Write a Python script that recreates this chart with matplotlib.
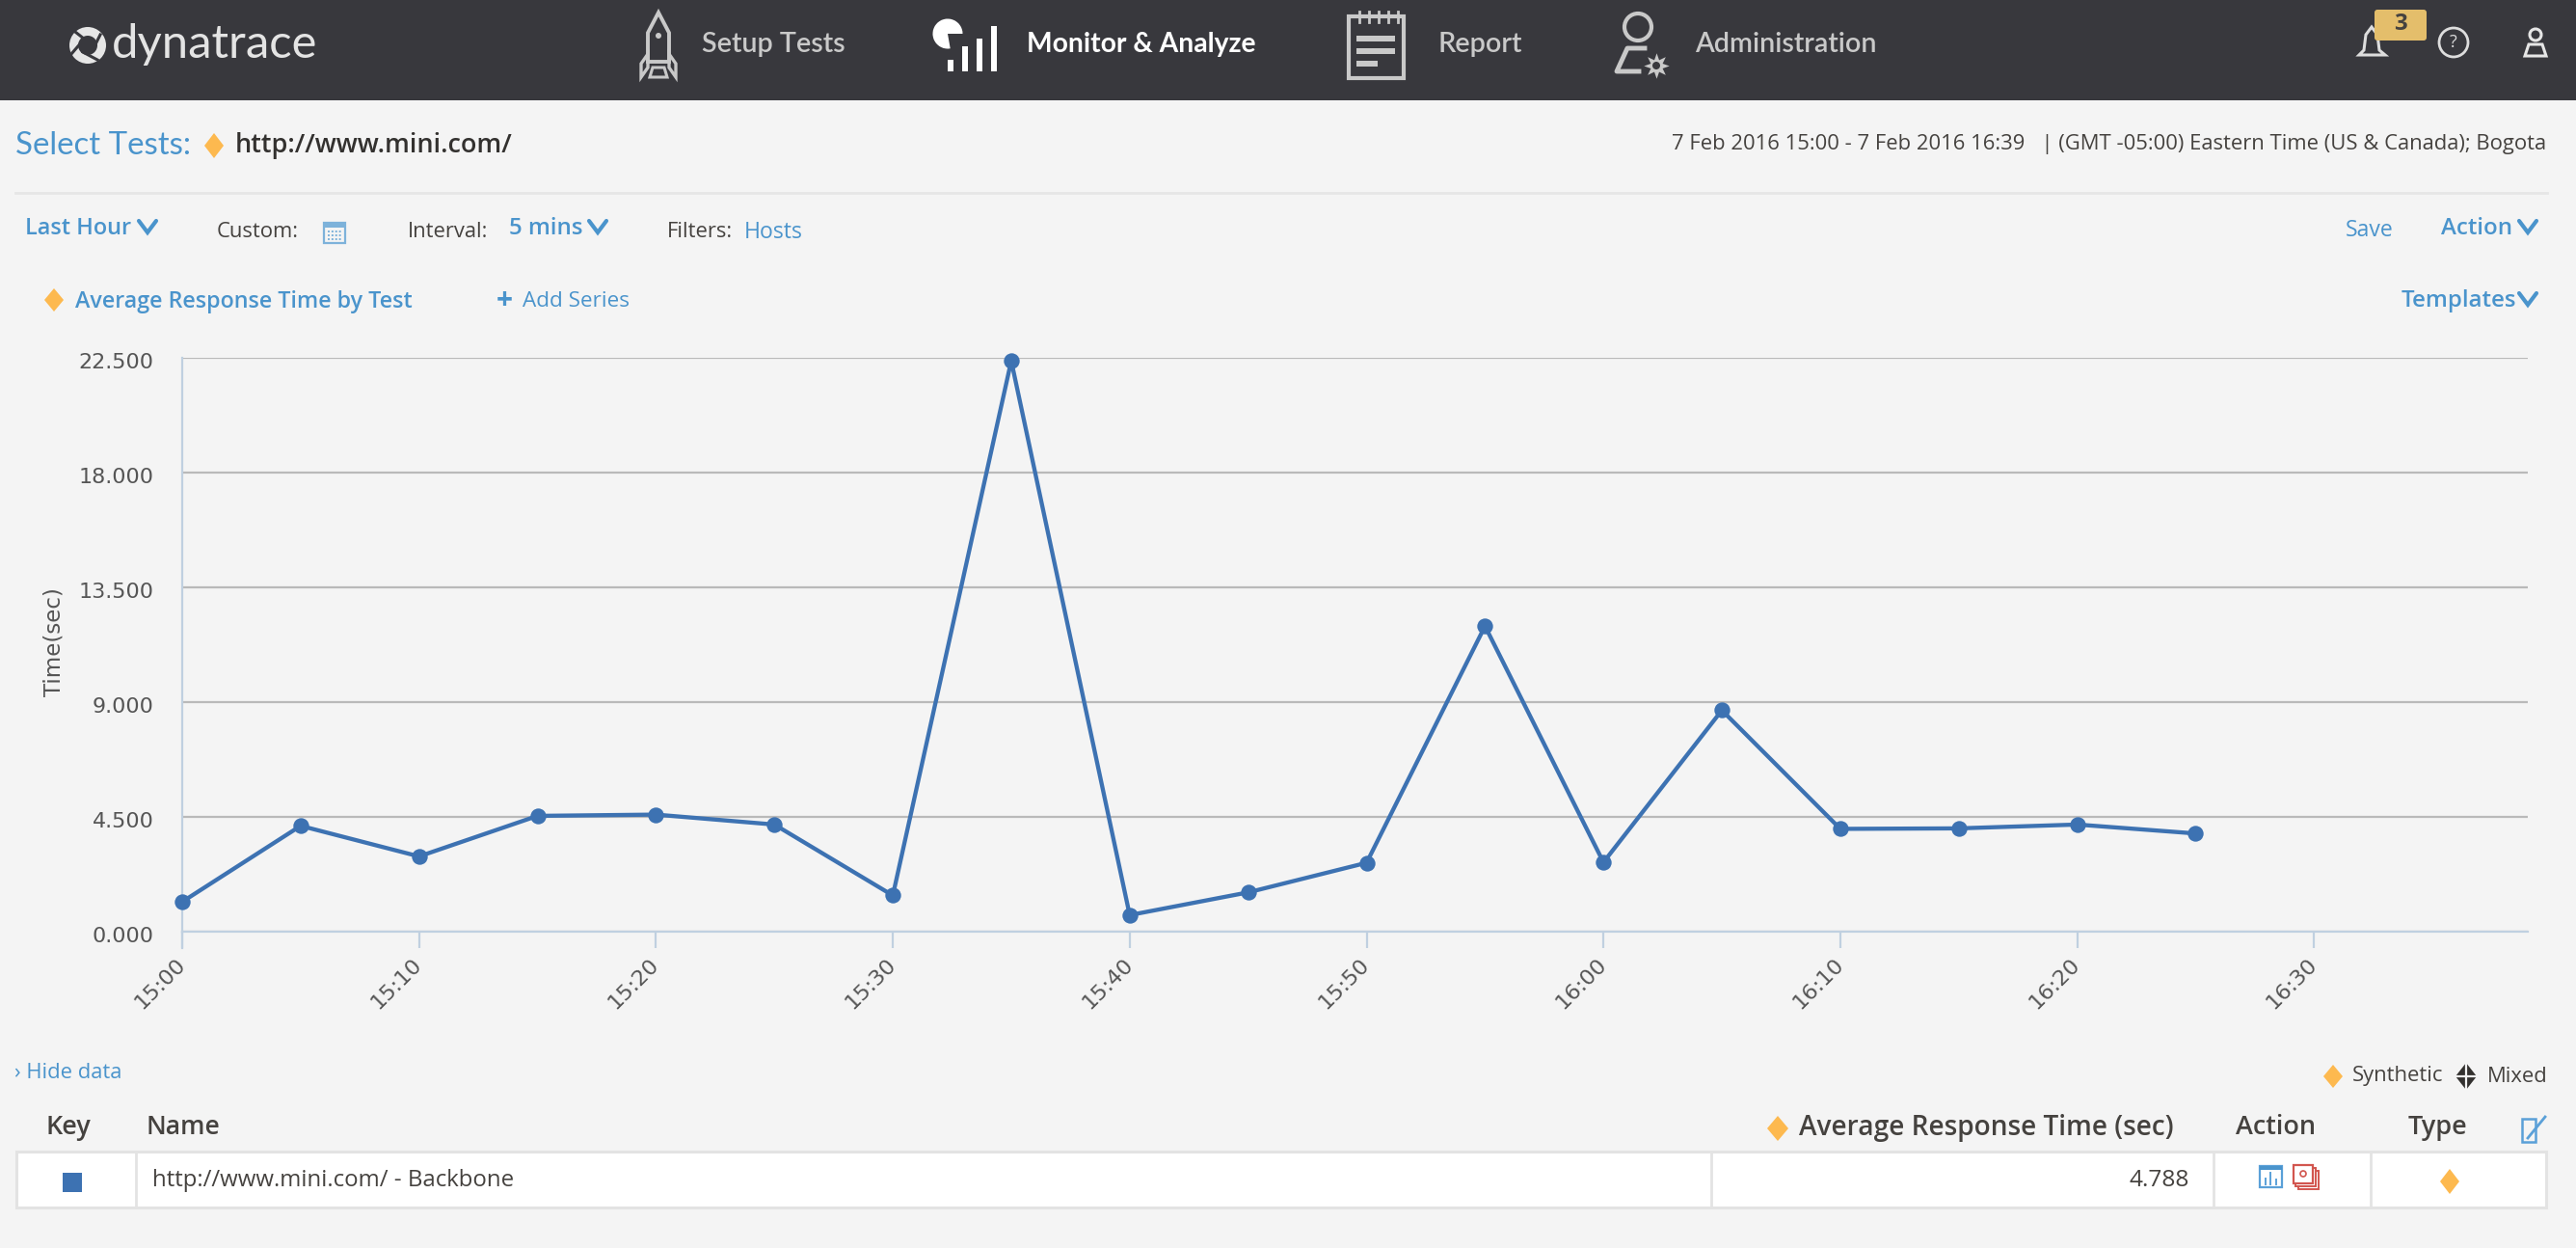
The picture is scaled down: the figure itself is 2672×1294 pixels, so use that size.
"""Dynatrace response time screen rebuilt with matplotlib."""

import matplotlib

matplotlib.use("Agg")
import matplotlib.pyplot as plt
from matplotlib.patches import Circle, FancyBboxPatch, Polygon, Rectangle, Wedge
from matplotlib.transforms import ScaledTranslation

W, H = 2672, 1294

BG = "#f4f4f4"
NAV_BG = "#38383d"
NAV_TEXT = "#c9c9c9"
BLUE = "#4a94cc"
DARK = "#45423f"
ORANGE = "#fdb94f"
LINE = "#3d72b2"
GRID = "#b9b9b9"
AXIS = "#c0d0e0"
BORDER = "#e3e3e3"

# minutes after 15:00, one reading each 5 mins
minutes = [0, 5, 10, 15, 20, 25, 30, 35, 40, 45, 50, 55, 60, 65, 70, 75, 80, 85]
response_sec = [1.17, 4.15, 2.95, 4.54, 4.59, 4.20, 1.42, 22.38, 0.65,
                1.54, 2.70, 11.98, 2.72, 8.68, 4.03, 4.05, 4.20, 3.85]

x_ticks = [0, 10, 20, 30, 40, 50, 60, 70, 80, 90]
x_labels = ["15:00", "15:10", "15:20", "15:30", "15:40",
            "15:50", "16:00", "16:10", "16:20", "16:30"]
y_ticks = [0, 4.5, 9, 13.5, 18, 22.5]
y_labels = ["0.000", "4.500", "9.000", "13.500", "18.000", "22.500"]

plt.rcParams["font.family"] = ["Open Sans", "DejaVu Sans"]

fig = plt.figure(figsize=(W / 100, H / 100), dpi=100, facecolor=BG)

# page furniture is placed in pixels on a full size axes
page = fig.add_axes([0, 0, 1, 1])
page.set_xlim(0, W)
page.set_ylim(H, 0)
page.axis("off")


def txt(x, y, s, px=24, color=DARK, ha="left", weight="normal", **kw):
    page.text(x, y, s, fontsize=px / 1.389, color=color, ha=ha, va="center",
              fontweight=weight, **kw)


def diamond(x, y, w=10, h=12, color=ORANGE):
    page.add_patch(Polygon([(x - w, y), (x, y - h), (x + w, y), (x, y + h)],
                           closed=True, fc=color, ec="none"))


def chevron(x, y, color=BLUE, size=9):
    page.plot([x - size, x, x + size], [y - 6, y + 6, y - 6], color=color, lw=3,
              solid_capstyle="round", solid_joinstyle="miter")


def rect(x0, y0, x1, y1, fc="none", ec="none", lw=1.0):
    page.add_patch(Rectangle((x0, y0), x1 - x0, y1 - y0, fc=fc, ec=ec, lw=lw))


# nav bar
rect(0, 0, W, 104, fc=NAV_BG)

# logo
page.add_patch(Circle((91, 47), 19, fc="#e6e6e6", ec="none"))
page.add_patch(Circle((91, 47), 10, fc=NAV_BG, ec="none"))
for x0, y0, x1, y1 in [(78, 33, 92, 44), (104, 36, 96, 52), (101, 62, 86, 54), (74, 56, 86, 42)]:
    page.plot([x0, x1], [y0, y1], color=NAV_BG, lw=2.2)
txt(116, 46, "dynatrace", px=49, color="#e4e4e4", family="Lato")

# rocket
page.add_patch(Polygon([(672, 64), (672, 34), (683, 13), (694, 34), (694, 64)],
                       closed=True, fc="none", ec=NAV_TEXT, lw=2.8))
page.add_patch(Polygon([(672, 56), (665, 66), (665, 80), (672, 70)], closed=True,
                       fc="none", ec=NAV_TEXT, lw=2.4))
page.add_patch(Polygon([(694, 56), (701, 66), (701, 80), (694, 70)], closed=True,
                       fc="none", ec=NAV_TEXT, lw=2.4))
page.add_patch(Circle((683, 37), 3, fc=NAV_TEXT, ec="none"))
page.add_patch(Polygon([(677, 70), (689, 70), (692, 80), (674, 80)], closed=True,
                       fc="none", ec=NAV_TEXT, lw=2.2))
txt(728, 46, "Setup Tests", px=28.7, color=NAV_TEXT, weight="semibold", family="Lato")

# monitor icon
page.add_patch(Wedge((983, 35), 15.5, 80, 360, fc="white", ec="none"))
for bx, top in zip([986, 1001, 1016, 1031], [62, 48, 40, 27]):
    rect(bx - 3, top, bx + 3, 74, fc="white")
txt(1065, 46, "Monitor & Analyze", px=28.2, color="white", weight="bold", family="Lato")

# report icon
rect(1399, 17, 1456, 81, ec=NAV_TEXT, lw=3)
for nx in (1410, 1420, 1430, 1440, 1450):
    page.plot([nx, nx], [12, 23], color=NAV_TEXT, lw=2)
rect(1407, 37, 1447, 43, fc=NAV_TEXT)
rect(1407, 50, 1447, 56, fc=NAV_TEXT)
rect(1407, 63, 1429, 69, fc=NAV_TEXT)
txt(1491, 46, "Report", px=28.7, color=NAV_TEXT, weight="semibold", family="Lato")

# admin icon
page.add_patch(Circle((1699, 28), 14, fc="none", ec=NAV_TEXT, lw=3))
page.plot([1706, 1688, 1677, 1700], [50, 50, 74, 74], color=NAV_TEXT, lw=3.5)
page.plot([1718], [68], marker=(8, 1, 0), ms=19, color=NAV_TEXT, mec="none")
page.add_patch(Circle((1718, 68), 4, fc=NAV_BG, ec="none", zorder=4))
txt(1758, 46, "Administration", px=28.7, color=NAV_TEXT, weight="semibold", family="Lato")

# bell, badge, help, user
page.add_patch(Polygon([(2447, 57), (2452, 52), (2454, 36), (2460, 28), (2466, 36),
                        (2468, 52), (2474, 57)], closed=True, fc="none", ec="#dddddd", lw=2.2))
page.add_patch(FancyBboxPatch((2463, 10), 54, 32, boxstyle="round,pad=0,rounding_size=3",
                              fc="#e4be6b", ec="none", zorder=3))
txt(2490, 25, "3", px=24, color="#45423f", ha="center", weight="bold", zorder=4)
page.add_patch(Circle((2545, 44), 15, fc="none", ec="#dddddd", lw=2))
txt(2545, 44, "?", px=18, color="#dddddd", ha="center")
page.add_patch(Circle((2630, 36), 6, fc="none", ec="#e6e6e6", lw=2.2))
page.add_patch(Polygon([(2623, 46), (2637, 46), (2641, 58), (2619, 58)], closed=True,
                       fc="none", ec="#e6e6e6", lw=2.2))

# title row
txt(16, 151, "Select Tests:", px=33, color=BLUE, family="Lato")
diamond(222, 151, 10, 13)
txt(244, 151, "http://www.mini.com/", px=27, color="#33312f", weight="semibold")
txt(2641, 150, "7 Feb 2016 15:00 - 7 Feb 2016 16:39   | (GMT -05:00) Eastern Time (US & Canada); Bogota",
    px=21.95, ha="right")
page.plot([16, 2642], [200, 200], color="#e6e6e6", lw=2)

# filter row
txt(26, 237, "Last Hour", px=23.5, color=BLUE, weight="semibold")
chevron(153, 235)
txt(225, 240, "Custom:", px=22)
rect(336, 231, 358, 252, ec="#7db2da", lw=1.6)
rect(336, 231, 358, 236, fc="#7db2da")
for row_y in (240, 244, 248):
    page.plot([340, 354], [row_y, row_y], color="#7db2da", lw=1.4, ls=(0, (1, 1)))
txt(423, 240, "Interval:", px=22)
txt(528, 237, "5 mins", px=24, color=BLUE, weight="semibold")
chevron(620, 235)
txt(692, 240, "Filters:", px=22)
txt(772, 241, "Hosts", px=23, color=BLUE)
txt(2433, 239, "Save", px=23, color=BLUE)
txt(2532, 237, "Action", px=24, color=BLUE, weight="semibold")
chevron(2622, 235)

# series row
diamond(56, 311, 10, 12)
txt(78, 313, "Average Response Time by Test", px=23.3, color=BLUE, weight="semibold")
txt(515, 312, "+", px=30, color=BLUE, weight="bold")
txt(542, 313, "Add Series", px=22.5, color=BLUE)
txt(2491, 312, "Templates", px=24, color=BLUE, weight="semibold")
chevron(2622, 310)

# data table
txt(15, 1112, "› Hide data", px=22, color=BLUE)
diamond(2420, 1116, 10, 12)
txt(2440, 1116, "Synthetic", px=22)
diamond(2558, 1116, 11, 14, color="#33312f")
page.plot([2545, 2571], [1116, 1116], color=BG, lw=1.6)
page.plot([2558, 2558], [1101, 1131], color=BG, lw=1.6)
txt(2580, 1116, "Mixed", px=22)
txt(48, 1169, "Key", px=27, weight="semibold")
txt(152, 1169, "Name", px=26.5, weight="semibold")
diamond(1844, 1170, 11, 13)
txt(1866, 1169, "Average Response Time (sec)", px=28, weight="semibold")
txt(2319, 1169, "Action", px=27, weight="semibold")
txt(2498, 1169, "Type", px=27, weight="semibold")
rect(2616, 1160, 2630, 1184, ec="#5aa0d8", lw=1.8)
page.plot([2622, 2640], [1180, 1158], color="#5aa0d8", lw=2)

rect(17, 1194, 2641, 1252, fc="white", ec=BORDER, lw=2.2)
for div in (141, 1775, 2296, 2459):
    page.plot([div, div], [1194, 1252], color=BORDER, lw=2)
rect(65, 1216, 85, 1236, fc=LINE)
txt(158, 1224, "http://www.mini.com/ - Backbone", px=24)
txt(2271, 1224, "4.788", px=24.5, ha="right")

# action icons
rect(2344, 1209, 2367, 1231, fc="white", ec="#5aa0d8", lw=1.6)
rect(2344, 1209, 2367, 1213, fc="#4a94cc")
for bx, top in zip((2350, 2355, 2361), (1222, 1216, 1223)):
    page.plot([bx, bx], [top, 1228], color="#5aa0d8", lw=1.4)
rect(2384, 1214, 2405, 1233, fc="white", ec="#d2564f", lw=1.4)
rect(2381, 1211, 2402, 1230, fc="white", ec="#d2564f", lw=1.4)
rect(2379, 1208, 2399, 1227, fc="white", ec="#d2564f", lw=1.6)
page.add_patch(Circle((2389, 1217), 3, fc="none", ec="#d2564f", lw=1.2))
diamond(2541, 1225, 10, 13)

# chart
left, right, top, bottom = 189, 2622, 371, 966
ax = fig.add_axes([left / W, 1 - bottom / H, (right - left) / W, (bottom - top) / H])
ax.patch.set_alpha(0)
ax.set_xlim(0, (right - left) / 24.57)
ax.set_ylim(0, 22.5)
ax.plot(minutes, response_sec, color=LINE, lw=3.1, marker="o", ms=11.8,
        mfc=LINE, mec=LINE, mew=0, clip_on=False, zorder=5)

ax.set_yticks(y_ticks, y_labels, fontsize=16, color="#555555", family="DejaVu Sans")
ax.set_xticks(x_ticks, x_labels, fontsize=16.2, color="#555555", family="DejaVu Sans",
              rotation=45, ha="right", va="center", rotation_mode="anchor")
ax.tick_params(axis="y", length=0, pad=21)
ax.tick_params(axis="x", length=12, width=1.6, color=AXIS, pad=10)
# y labels sit a little under their grid lines
nudge = ScaledTranslation(0, -3 / 100, fig.dpi_scale_trans)
for label in ax.get_yticklabels():
    label.set_transform(label.get_transform() + nudge)
ax.grid(axis="y", color=GRID, lw=1.6)
ax.set_axisbelow(True)
for name in ("top", "right"):
    ax.spines[name].set_visible(False)
for name in ("left", "bottom"):
    ax.spines[name].set_color(AXIS)
    ax.spines[name].set_linewidth(1.6)
page.plot([left, left], [966, 983], color=AXIS, lw=1.6)
txt(56, 666, "Time(sec)", px=23, color="#555555", ha="center", rotation=90, family="DejaVu Sans")

fig.savefig("out.png", dpi=100, facecolor=BG)
